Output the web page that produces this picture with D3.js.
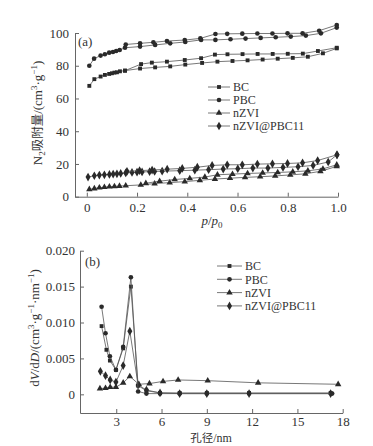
<!DOCTYPE html>
<html>
<head>
<meta charset="utf-8">
<script src="https://cdn.jsdelivr.net/npm/d3@7"></script>
<style>
  body { margin: 0; background: #fff; }
  svg { display: block; font-family: "Liberation Serif", "Noto Sans CJK SC", serif; }
</style>
</head>
<body>
<script>
// ---- panel (a): N2 adsorption-desorption isotherms ----
const seriesNames = ['BC', 'PBC', 'nZVI', 'nZVI@PBC11'];

const bcAdsP = [0.01,0.03,0.055,0.072,0.089,0.1,0.11,0.12,0.132,0.152,0.212,0.272,0.332,0.392,0.459,0.52,0.58,0.64,0.70,0.76,0.82,0.88,0.94,0.995];
const bcAdsV = [67.7,71.8,73.4,74.4,75,75.4,75.8,76,76.6,77,78.3,79,79.6,80.7,81.7,82.5,82.9,83.3,83.8,84.3,84.8,85.5,87.6,90.6];
const bcDesP = [0.995,0.92,0.86,0.80,0.74,0.68,0.62,0.56,0.51,0.455,0.39,0.319,0.259,0.216,0.152];
const bcDesV = [91,89,87.4,87.3,87.2,87.2,87.1,87,86.8,84.6,83.5,82.5,81.9,81,77];

const pbcAdsP = [0.01,0.029,0.055,0.072,0.089,0.104,0.117,0.131,0.152,0.212,0.272,0.332,0.392,0.455,0.512,0.572,0.632,0.692,0.752,0.812,0.872,0.932,0.995];
const pbcAdsV = [80,84.3,86.2,87,88,88.4,89,89.6,91,91.7,92.7,93.7,94.5,95.8,95.8,96.2,96.6,97,97.4,97.8,98.4,99.8,103.3];
const pbcDesP = [0.995,0.925,0.859,0.799,0.739,0.679,0.619,0.559,0.512,0.452,0.39,0.319,0.265,0.212,0.155];
const pbcDesV = [104.9,101.4,99.8,99.8,99.7,99.7,99.6,99.5,99.4,96.7,95.7,95.1,94.3,93.7,93];

const nzviAdsP = [0.01,0.03,0.05,0.07,0.09,0.11,0.13,0.155,0.215,0.27,0.33,0.39,0.45,0.51,0.57,0.63,0.69,0.75,0.81,0.87,0.93,0.995];
const nzviAdsV = [4.5,5,5.5,5.8,6.1,6.3,6.5,6.7,7.2,8,8.6,9.2,10,10.8,11.3,11.8,12.2,12.7,13.3,14,15.5,18.5];
const nzviDesP = [0.995,0.94,0.88,0.82,0.76,0.70,0.64,0.58,0.52,0.47,0.41,0.35,0.29,0.235];
const nzviDesV = [19.5,17,15.8,15.2,14.8,14.5,14.2,13.8,13.4,12,11.2,10.5,9.5,8.2];

const compAdsP = [0.005,0.03,0.05,0.07,0.09,0.105,0.12,0.135,0.155,0.18,0.2,0.22,0.25,0.27,0.3,0.37,0.43,0.485,0.543,0.601,0.661,0.721,0.781,0.841,0.901,0.961,0.996];
const compAdsV = [12,12.8,13.2,13.4,13.6,13.8,14,14.2,14.5,14.8,15,15.1,15.3,15.4,15.6,15.9,16.2,16.5,16.9,17.1,17.5,17.5,17.9,18.3,19.1,21.2,25.6];
const compDesP = [0.996,0.919,0.859,0.799,0.739,0.679,0.619,0.559,0.499,0.44,0.38,0.32,0.26,0.21,0.16];
const compDesV = [25.6,22.1,20.7,20.3,20.1,19.9,19.5,19.5,19.1,18,17.3,16.8,16.3,15.9,15.5];

const aTicksX = [0, 0.2, 0.4, 0.6, 0.8, 1.0];
const aTicksY = [0, 20, 40, 60, 80, 100];

// ---- panel (b): pore size distribution ----
const bcD = [2.03,2.35,2.58,2.98,3.46,3.97,4.45,5.0,5.9,7.2,9.0,11.8,17.2];
const bcDV = [0.0095,0.0062,0.0047,0.0034,0.0064,0.0150,0.0012,0.0005,0.0002,0.0002,0.0002,0.0002,0.0002];
const pbcD = [2.03,2.29,2.58,2.98,3.46,3.97,4.45,5.0,5.9,7.2,9.0,11.8,17.3];
const pbcDV = [0.0122,0.0085,0.0053,0.0034,0.0066,0.0163,0.0004,0.0001,0.0001,0.0001,0.0001,0.0001,0.0001];
const nzviD = [1.92,2.29,2.6,2.98,3.46,3.9,4.5,5.2,6.1,7.1,9.06,12.4,17.7];
const nzviDV = [0.0008,0.00085,0.0010,0.0010,0.0016,0.0025,0.0014,0.0015,0.0018,0.0020,0.0019,0.0016,0.0014];
const compD = [1.95,2.29,2.6,2.98,3.46,3.9,4.45,5.0,5.9,7.2,9.0,11.8,17.2];
const compDV = [0.0032,0.0026,0.0020,0.0017,0.0040,0.0088,0.0013,0.0006,0.0002,0.0001,0.0001,0.0001,0.0001];

const bTicksX = [3, 6, 9, 12, 15, 18];
const bTicksY = [0, 0.005, 0.010, 0.015, 0.020];

const zip = (xs, ys) => xs.map((x, i) => [x, ys[i]]);

const symbols = {
  'BC': d3.symbol(d3.symbolSquare, 15),
  'PBC': d3.symbol(d3.symbolCircle, 17),
  'nZVI': d3.symbol(d3.symbolTriangle, 18),
  'nZVI@PBC11': d3.symbol(d3.symbolDiamond, 22)
};

const ink = '#2a2a2a';
const lineInk = '#555';
const axisInk = '#666';

const width = 373, height = 446;
const svg = d3.select('body').append('svg')
  .attr('width', width).attr('height', height);

const drawSeries = (g, x, y, pts, name) => {
  g.append('path')
    .datum(pts)
    .attr('fill', 'none')
    .attr('stroke', lineInk)
    .attr('stroke-width', 0.8)
    .attr('d', d3.line().x(d => x(d[0])).y(d => y(d[1])));
  g.append('g').selectAll('path')
    .data(pts)
    .join('path')
      .attr('transform', d => `translate(${x(d[0])},${y(d[1])})`)
      .attr('d', symbols[name]())
      .attr('fill', ink);
};

const styleAxis = g => {
  g.select('.domain').attr('stroke', axisInk).attr('stroke-width', 1);
  g.selectAll('.tick line').attr('stroke', axisInk);
  g.selectAll('.tick text').attr('fill', '#333').attr('font-size', 13)
    .attr('font-family', '"Liberation Serif", serif');
};

const legend = (g, x0, y0, step, lineLen) => {
  seriesNames.forEach((name, i) => {
    const yy = y0 + i * step;
    g.append('line')
      .attr('x1', x0).attr('x2', x0 + lineLen)
      .attr('y1', yy).attr('y2', yy)
      .attr('stroke', lineInk).attr('stroke-width', 0.8);
    g.append('path')
      .attr('transform', `translate(${x0 + lineLen / 2},${yy})`)
      .attr('d', symbols[name]())
      .attr('fill', ink);
    g.append('text')
      .attr('x', x0 + lineLen + 3).attr('y', yy + 4.3)
      .attr('font-size', 12).attr('fill', '#333')
      .text(name);
  });
};

// ================= panel (a) =================
const xa = d3.scaleLinear().domain([-0.047, 1]).range([75, 338]);
const ya = d3.scaleLinear().domain([0, 100]).range([196.7, 33]);

const ga = svg.append('g');

ga.append('g')
  .attr('transform', `translate(0,${ya(0)})`)
  .call(d3.axisBottom(xa).tickValues(aTicksX)
    .tickFormat(d => d === 0 ? '0' : d3.format('.1f')(d))
    .tickSizeInner(-4).tickSizeOuter(0).tickPadding(6))
  .call(styleAxis);

ga.append('g')
  .attr('transform', `translate(${xa.range()[0]},0)`)
  .call(d3.axisLeft(ya).tickValues(aTicksY)
    .tickSizeInner(-4).tickSizeOuter(0).tickPadding(6))
  .call(styleAxis);

drawSeries(ga, xa, ya, zip(bcAdsP, bcAdsV), 'BC');
drawSeries(ga, xa, ya, zip(bcDesP, bcDesV), 'BC');
drawSeries(ga, xa, ya, zip(pbcAdsP, pbcAdsV), 'PBC');
drawSeries(ga, xa, ya, zip(pbcDesP, pbcDesV), 'PBC');
drawSeries(ga, xa, ya, zip(nzviAdsP, nzviAdsV), 'nZVI');
drawSeries(ga, xa, ya, zip(nzviDesP, nzviDesV), 'nZVI');
drawSeries(ga, xa, ya, zip(compAdsP, compAdsV), 'nZVI@PBC11');
drawSeries(ga, xa, ya, zip(compDesP, compDesV), 'nZVI@PBC11');

ga.append('text').attr('x', 78).attr('y', 46).attr('font-size', 13).attr('fill', '#333').text('(a)');

legend(ga, 208, 87, 13, 22);

// y label (a)
const yla = ga.append('text')
  .attr('transform', 'translate(42,113) rotate(-90)')
  .attr('text-anchor', 'middle')
  .attr('font-size', 13).attr('fill', '#333');
yla.append('tspan').text('N');
yla.append('tspan').attr('font-size', 9).attr('dy', 3).text('2');
yla.append('tspan').attr('dy', -3).attr('font-family', '"Noto Sans CJK SC", sans-serif').attr('font-size', 12.5).text('吸附量');
yla.append('tspan').text('/(cm');
yla.append('tspan').attr('font-size', 9).attr('dy', -5).text('3');
yla.append('tspan').attr('dy', 5).text('·g');
yla.append('tspan').attr('font-size', 9).attr('dy', -5).text('−1');
yla.append('tspan').attr('dy', 5).text(')');

// x label (a)
const xla = ga.append('text')
  .attr('x', 212).attr('y', 225)
  .attr('text-anchor', 'middle')
  .attr('font-size', 13).attr('fill', '#333').attr('font-style', 'italic');
xla.append('tspan').text('p');
xla.append('tspan').attr('font-style', 'normal').text('/');
xla.append('tspan').text('p');
xla.append('tspan').attr('font-size', 9).attr('dy', 3).attr('font-style', 'normal').text('0');

// ================= panel (b) =================
const xb = d3.scaleLinear().domain([0.6, 18]).range([80, 342.7]);
const yb = d3.scaleLinear().domain([-0.0026, 0.020]).range([413, 250.7]);

const gb = svg.append('g');

gb.append('g')
  .attr('transform', `translate(0,${yb.range()[0]})`)
  .call(d3.axisBottom(xb).tickValues(bTicksX)
    .tickSizeInner(-4).tickSizeOuter(0).tickPadding(4))
  .call(styleAxis);

gb.append('g')
  .attr('transform', `translate(${xb.range()[0]},0)`)
  .call(d3.axisLeft(yb).tickValues(bTicksY)
    .tickFormat(d => d === 0 ? '0' : d3.format('.3f')(d))
    .tickSizeInner(-4).tickSizeOuter(0).tickPadding(5))
  .call(styleAxis);

drawSeries(gb, xb, yb, zip(nzviD, nzviDV), 'nZVI');
drawSeries(gb, xb, yb, zip(compD, compDV), 'nZVI@PBC11');
drawSeries(gb, xb, yb, zip(bcD, bcDV), 'BC');
drawSeries(gb, xb, yb, zip(pbcD, pbcDV), 'PBC');

gb.append('text').attr('x', 85).attr('y', 266).attr('font-size', 13).attr('fill', '#333').text('(b)');

legend(gb, 217, 266, 13.3, 25);

// y label (b)
const ylb = gb.append('text')
  .attr('transform', 'translate(39,328) rotate(-90)')
  .attr('text-anchor', 'middle')
  .attr('font-size', 13).attr('fill', '#333');
ylb.append('tspan').text('d');
ylb.append('tspan').attr('font-style', 'italic').text('V');
ylb.append('tspan').text('/d');
ylb.append('tspan').attr('font-style', 'italic').text('D');
ylb.append('tspan').text('/(cm');
ylb.append('tspan').attr('font-size', 9).attr('dy', -5).text('3');
ylb.append('tspan').attr('dy', 5).text('·g');
ylb.append('tspan').attr('font-size', 9).attr('dy', -5).text('−1');
ylb.append('tspan').attr('dy', 5).text('·nm');
ylb.append('tspan').attr('font-size', 9).attr('dy', -5).text('−1');
ylb.append('tspan').attr('dy', 5).text(')');

// x label (b)
const xlb = gb.append('text')
  .attr('x', 211).attr('y', 442)
  .attr('text-anchor', 'middle')
  .attr('font-size', 12).attr('fill', '#333');
xlb.append('tspan').attr('font-family', '"Noto Sans CJK SC", sans-serif').attr('font-size', 11.5).text('孔径');
xlb.append('tspan').text('/nm');
</script>
</body>
</html>
